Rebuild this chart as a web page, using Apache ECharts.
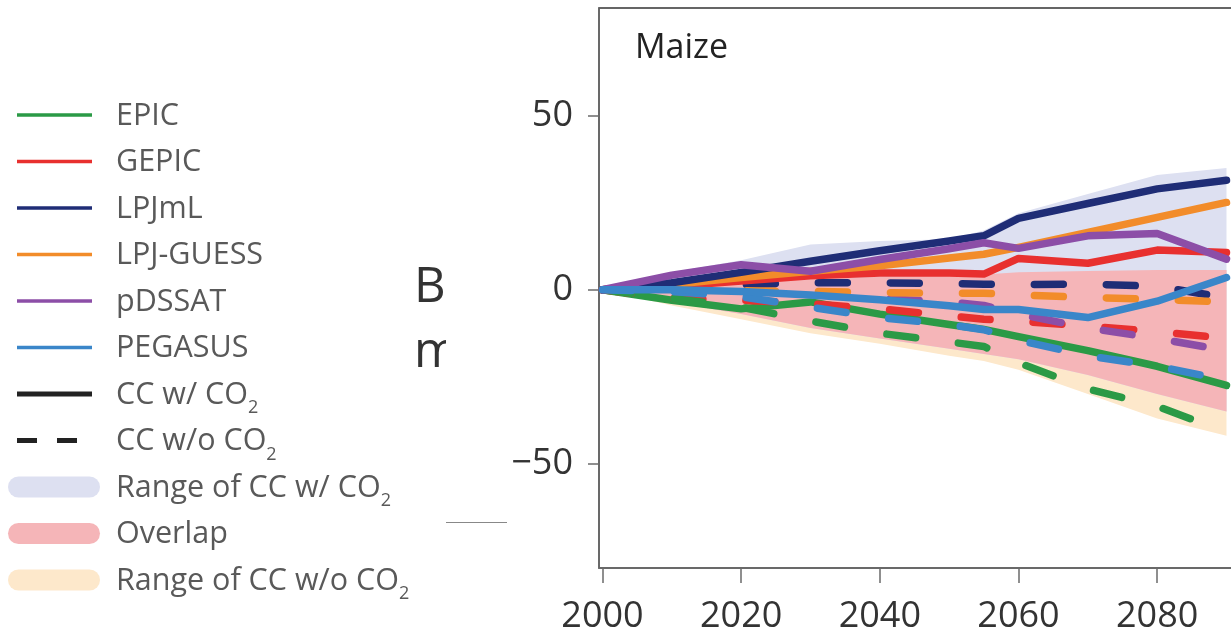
<!DOCTYPE html>
<html>
<head>
<meta charset="utf-8">
<script src="https://cdn.jsdelivr.net/npm/echarts@6/dist/echarts.min.js"></script>
<style>
html, body { margin: 0; padding: 0; background: #fff; overflow: hidden; }
#chart { width: 1340px; height: 635px; }
</style>
</head>
<body>
<div id="chart"></div>
<script>
const years = [2000, 2010, 2020, 2030, 2040, 2050, 2055, 2060, 2070, 2080, 2090]

// CC w/ CO2 (solid)
const epicCO2 = [0, -3, -5.5, -3.5, -7, -10, -11.4, -13.5, -17.5, -22, -27.5]
const gepicCO2 = [0, 1, 2.5, 4, 4.8, 4.8, 4.5, 9, 7.6, 11.4, 10.7]
const lpjmlCO2 = [0, 2, 5, 8.2, 11.2, 14, 15.5, 20.5, 24.8, 29, 31.5]
const lpjguessCO2 = [0, 1.5, 3.5, 5.3, 6.9, 9.1, 10.2, 12.2, 16.5, 20.8, 25.1]
const pdssatCO2 = [0, 4.2, 7.2, 5.3, 8.7, 11.8, 13.5, 11.9, 15.5, 16.2, 8.8]
const pegasusCO2 = [0, 0, -0.5, -1.5, -2.9, -4.6, -5.7, -5.7, -8, -3.3, 3.5]

// CC w/o CO2 (dashed)
const epicNoCO2 = [0, -2.5, -5, -9, -12.5, -15, -16.3, -21, -28.5, -33.5, -41]
const gepicNoCO2 = [0, -2.5, -3, -4, -5.5, -7.5, -8.5, -9, -10.5, -12, -14]
const lpjmlNoCO2 = [0, 0.5, 1.5, 2, 2, 1.8, 1.6, 1.5, 1.6, 1, -2.3]
const lpjguessNoCO2 = [0, 0, -0.3, -0.5, -0.8, -1, -1, -1.5, -2.2, -2.8, -3.5]
const pdssatNoCO2 = [0, 0, -0.5, -1, -2.5, -3.5, -4.5, -7, -11, -14, -17.5]
const pegasusNoCO2 = [0, -0.5, -2, -5, -8, -10, -11.5, -14.5, -19, -22, -26]

// ranges
const rangeCO2Max = [0, 5, 8.5, 13, 14, 14.5, 17, 22, 27.5, 33, 35]
const rangeCO2Min = [0, -3.5, -7, -11, -14, -17, -18.5, -20, -24.5, -30, -35]
const rangeNoCO2Max = [0, 1, 2, 3, 3.7, 4.2, 4.4, 5, 5.4, 5.7, 5.7]
const rangeNoCO2Min = [0, -4.5, -8.5, -12.5, -15.5, -19, -20.5, -23, -30, -37, -42]

const xTicks = [2000, 2020, 2040, 2060, 2080, 2100]
const yTicks = [-50, 0, 50]

const models = ['EPIC', 'GEPIC', 'LPJmL', 'LPJ-GUESS', 'pDSSAT', 'PEGASUS']
const modelColors = ['#2b9a46', '#e8302f', '#1f2d76', '#f28c2a', '#8c4ea7', '#3a86c9']
const rangeLabels = ['Range of CC w/ CO{s|2}', 'Overlap', 'Range of CC w/o CO{s|2}']
const rangeColors = ['#dde0f1', '#f5b5b8', '#fde8cb']

const FONT = '"Open Sans", "Noto Sans", sans-serif'

const pairs = arr => years.map((y, i) => [y, arr[i]])

const solidLine = (name, arr, color) => ({
  name, type: 'line', data: pairs(arr), symbol: 'none', silent: true, z: 3,
  lineStyle: { color, width: 7.5, cap: 'round', join: 'round' }
})
const dashLine = (name, arr, color) => ({
  name, type: 'line', data: pairs(arr), symbol: 'none', silent: true, z: 3,
  lineStyle: { color, width: 7.5, type: [29, 43], cap: 'round', join: 'round' }
})
// filled band between two boundary arrays, drawn through the axes
const band = (name, upper, lower, color) => ({
  name, type: 'custom', silent: true, clip: true, z: 1,
  data: years.map((y, i) => [y, upper[i], lower[i]]),
  encode: { x: 0, y: [1, 2] },
  renderItem: (params, api) => {
    if (params.dataIndex !== 0) return null
    const top = upper.map((v, i) => api.coord([years[i], v]))
    const bottom = lower.map((v, i) => api.coord([years[i], v])).reverse()
    return { type: 'polygon', shape: { points: top.concat(bottom) }, style: { fill: color } }
  }
})

// legend drawn as graphics
const rowY = i => 115 + i * 46.5
const graphics = []
models.forEach((name, i) => {
  graphics.push({ type: 'line', shape: { x1: 17, y1: rowY(i), x2: 92, y2: rowY(i) }, style: { stroke: modelColors[i], lineWidth: 3.5 } })
})
graphics.push({ type: 'line', shape: { x1: 17, y1: rowY(6), x2: 92, y2: rowY(6) }, style: { stroke: '#222', lineWidth: 5 } })
graphics.push({ type: 'line', shape: { x1: 17, y1: rowY(7), x2: 77, y2: rowY(7) }, style: { stroke: '#222', lineWidth: 5, lineDash: [20, 20] } })
rangeColors.forEach((c, i) => {
  graphics.push({ type: 'rect', shape: { x: 8, y: rowY(8 + i) - 10.5, width: 92, height: 21, r: 10.5 }, style: { fill: c } })
})
const legendTexts = models.concat(['CC w/ CO{s|2}', 'CC w/o CO{s|2}'], rangeLabels)
legendTexts.forEach((t, i) => {
  graphics.push({
    type: 'text', x: 116, y: rowY(i) + 1,
    style: {
      text: t, fill: '#595959', font: '30.5px ' + FONT, verticalAlign: 'middle', lineHeight: 44,
      rich: { s: { fontSize: 18, fontFamily: FONT, fill: '#595959', lineHeight: 18, verticalAlign: 'bottom' } }
    }
  })
})
// panel title and clipped neighbour text
graphics.push({ type: 'text', x: 635, y: 48, style: { text: 'Maize', fill: '#222', font: '34px ' + FONT, verticalAlign: 'middle' } })
graphics.push({ type: 'text', x: 414, y: 288, style: { text: 'B', fill: '#333', font: '49px ' + FONT, verticalAlign: 'middle' } })
graphics.push({ type: 'text', x: 414, y: 353, style: { text: 'm', fill: '#333', font: '49px ' + FONT, verticalAlign: 'middle' } })
graphics.push({ type: 'rect', shape: { x: 446, y: 320, width: 100, height: 70 }, style: { fill: '#fff' }, z: 10 })
graphics.push({ type: 'line', shape: { x1: 446, y1: 522.5, x2: 507, y2: 522.5 }, style: { stroke: '#888', lineWidth: 1 } })

const option = {
  animation: false,
  backgroundColor: '#fff',
  grid: {
    left: 599, top: 8, width: 711, height: 564,
    show: true, borderColor: '#333', borderWidth: 1.5
  },
  xAxis: {
    type: 'value', min: 1999.5, max: 2100.5,
    axisLine: { onZero: false, lineStyle: { color: '#6b6b6b', width: 1.5 } },
    axisTick: { customValues: xTicks, length: 15, lineStyle: { color: '#6b6b6b', width: 1.5 } },
    axisLabel: {
      customValues: xTicks, margin: 31, fontSize: 36, fontFamily: FONT, color: '#333',
      formatter: v => String(v)
    },
    splitLine: { show: false }
  },
  yAxis: {
    type: 'value', min: -80, max: 81,
    axisLine: { show: true, onZero: false, lineStyle: { color: '#6b6b6b', width: 1.5 } },
    axisTick: { show: true, customValues: yTicks, length: 11, lineStyle: { color: '#6b6b6b', width: 1.5 } },
    axisLabel: {
      customValues: yTicks, margin: 26, fontSize: 36, fontFamily: FONT, color: '#333',
      padding: [5, 0, 0, 0],
      formatter: v => v < 0 ? '\u2212' + Math.abs(v) : String(v)
    },
    splitLine: { show: false }
  },
  graphic: graphics,
  series: [
    band('Range of CC w/o CO2', rangeNoCO2Max, rangeNoCO2Min, rangeColors[2]),
    band('Range of CC w/ CO2', rangeCO2Max, rangeCO2Min, rangeColors[0]),
    band('Overlap', rangeNoCO2Max, rangeCO2Min, rangeColors[1]),
    solidLine('EPIC', epicCO2, modelColors[0]),
    dashLine('GEPIC w/o', gepicNoCO2, modelColors[1]),
    dashLine('pDSSAT w/o', pdssatNoCO2, modelColors[4]),
    dashLine('LPJmL w/o', lpjmlNoCO2, modelColors[2]),
    dashLine('LPJ-GUESS w/o', lpjguessNoCO2, modelColors[3]),
    dashLine('EPIC w/o', epicNoCO2, modelColors[0]),
    dashLine('PEGASUS w/o', pegasusNoCO2, modelColors[5]),
    solidLine('GEPIC', gepicCO2, modelColors[1]),
    solidLine('LPJ-GUESS', lpjguessCO2, modelColors[3]),
    solidLine('LPJmL', lpjmlCO2, modelColors[2]),
    solidLine('pDSSAT', pdssatCO2, modelColors[4]),
    solidLine('PEGASUS', pegasusCO2, modelColors[5])
  ]
}

const myChart = echarts.init(document.getElementById('chart'))
myChart.setOption(option)
</script>
</body>
</html>
